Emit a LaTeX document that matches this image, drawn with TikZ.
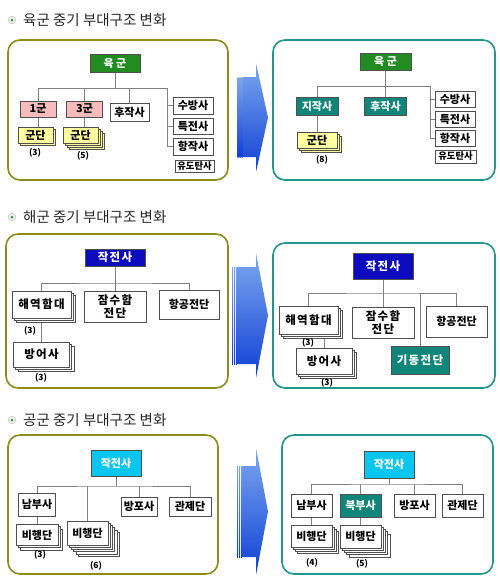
\documentclass[tikz,border=0pt]{standalone}
\usepackage{fontspec}
\setmainfont{Noto Sans CJK KR}
\usetikzlibrary{shadows,backgrounds}
\definecolor{oldframe}{HTML}{8C8C1A}
\definecolor{newframe}{HTML}{20968C}
\definecolor{boxline}{HTML}{505050}
\definecolor{wire}{HTML}{808080}
\definecolor{armygreen}{HTML}{228B22}
\definecolor{newteal}{HTML}{10857A}
\definecolor{navyblue}{HTML}{0C0CBE}
\definecolor{aircyan}{HTML}{08C6F0}
\definecolor{armypink}{HTML}{F8BCBC}
\definecolor{corps}{HTML}{FFFFA0}
\definecolor{arrowtop}{HTML}{7CA8EE}
\definecolor{arrowbot}{HTML}{1040D6}
\definecolor{leaf}{HTML}{3C9A3C}
% big blue arrow: stripe x, body top, body bottom, head top, head bottom
\newcommand{\bigarrow}[5]{%
  \foreach \s in {0,2,4}
    \shade[top color=arrowtop,bottom color=arrowbot] (#1+\s,#2) rectangle (#1+\s+1,#3);
  \shade[top color=arrowtop,bottom color=arrowbot] (#1+5.6,#2) -- (256,#2) -- (256,#4)
    -- (268,{(#4+#5)/2}) -- (256,#5) -- (256,#3) -- (#1+5.6,#3) -- cycle;
}
\tikzset{
  unit/.style={draw=boxline,fill=white,line width=0.7pt,inner sep=0pt,align=center,
    font=\bfseries\fontsize{11}{13}\selectfont},
  wide/.style={font=\bfseries\fontsize{11.5}{13}\selectfont\addfontfeatures{LetterSpace=12}},
  small/.style={font=\bfseries\fontsize{9.3}{10}\selectfont},
  hq/.style={unit,text=white,fill=#1},
  dims/.style 2 args={minimum width=#1pt,minimum height=#2pt},
  pile/.style={general shadow={fill=white,draw=boxline,line width=0.5pt,
    shadow xshift=#1*2.2pt,shadow yshift=-#1*2.2pt}},
  ypile/.style={general shadow={fill=corps,draw=boxline,line width=0.5pt,
    shadow xshift=#1*2.2pt,shadow yshift=-#1*2.2pt}},
  count/.style={font=\bfseries\fontsize{8.5}{9}\selectfont,inner sep=0pt},
  title/.style={anchor=west,inner sep=0pt,text=black!85,font=\fontsize{14.5}{15}\selectfont},
  oldbox/.style={draw=oldframe,line width=1.6pt,rounded corners=12pt},
  newbox/.style={draw=newframe,line width=1.6pt,rounded corners=12pt},
  link/.style={draw=wire,line width=0.8pt},
}
\begin{document}
\begin{tikzpicture}[x=1pt,y=-1pt]
\useasboundingbox (0,0) rectangle (500,584);
% titles
\foreach \y/\t in {20/육군 중기 부대구조 변화,217/해군 중기 부대구조 변화,420/공군 중기 부대구조 변화}{
  \draw[fill=gray!12,draw=gray!45,line width=0.6pt] (12,\y) circle (3.8);
  \fill[leaf] (12,\y) circle (1.5);
  \node[title] at (23,\y) {\t};
}
% frames
\draw[oldbox] (8,40) rectangle (228,180);
\draw[newbox] (273,40) rectangle (495,180);
\draw[oldbox] (6,234) rectangle (228,388);
\draw[newbox] (273,243) rectangle (495,388);
\draw[oldbox] (8,435) rectangle (218,574);
\draw[newbox] (282,435) rectangle (493,574);
% arrows
\bigarrow{237.7}{77}{157}{63}{172}
\bigarrow{232}{267}{364}{253}{378}
\bigarrow{237}{466}{557}{448}{575}

% army, before
\node[hq=armygreen,dims={50}{18}] (yg1) at (115,63) {육 군};
\node[unit,fill=armypink,dims={36}{16}] (g1) at (38,109) {1군};
\node[unit,fill=armypink,dims={36}{16}] (g3) at (84.5,109) {3군};
\node[unit,dims={39}{18}] (hj1) at (129.5,112) {후작사};
\node[unit,dims={40}{17}] (sb1) at (193,105.5) {수방사};
\node[unit,dims={40}{16}] (tj1) at (193,126) {특전사};
\node[unit,dims={40}{17}] (hs1) at (193,146.5) {항작사};
\node[unit,small,dims={39}{12},line width=0.5pt] (yd1) at (194.5,166) {유도탄사};
\node[unit,fill=corps,dims={35}{16},ypile=1] (gd1) at (35.5,135) {군단};
\node[unit,fill=corps,dims={35}{16},ypile=3,ypile=2,ypile=1] (gd3) at (80.5,135) {군단};
\node[count] (n1) at (35,153) {(3)};
\node[count] (n3) at (83,156) {(5)};
\coordinate (bus1) at (167,88);

% army, after
\node[hq=armygreen,dims={51}{17}] (yg2) at (385.5,61.5) {육 군};
\node[hq=newteal,dims={42}{18}] (jj2) at (317,106) {지작사};
\node[hq=newteal,dims={42}{18}] (hj2) at (385.5,106) {후작사};
\node[unit,dims={40}{16}] (sb2) at (455,99) {수방사};
\node[unit,dims={40}{16}] (tj2) at (455,119) {특전사};
\node[unit,dims={40}{16}] (hs2) at (455,138) {항작사};
\node[unit,small,dims={41}{13},line width=0.5pt] (yd2) at (455.5,156.5) {유도탄사};
\node[unit,fill=corps,dims={40}{16},ypile=2,ypile=1] (gd2) at (317,140) {군단};
\node[count] (n8) at (322,160) {(8)};
\coordinate (bus2) at (430,86);

% navy, before
\node[hq=navyblue,dims={60}{17},wide] (js3) at (115,257.5) {작전사};
\node[unit,dims={59}{27},wide,pile=2,pile=1] (hy3) at (41.5,304.5) {해역함대};
\node[unit,dims={62}{31},wide] (jsh3) at (115,306.5) {잠수함\\전단};
\node[unit,dims={60}{29}] (hg3) at (189,304.5) {항공전단};
\node[unit,dims={56}{25},wide,pile=2,pile=1] (bo3) at (41.5,354.5) {방어사};
\node[count] (n31) at (30,331) {(3)};
\node[count] (n32) at (41,378) {(3)};
\coordinate (bus3) at (115,283);

% navy, after
\node[hq=navyblue,dims={60}{26},wide] (js4) at (383,266) {작전사};
\node[unit,dims={59}{28},wide,pile=2,pile=1] (hy4) at (308.5,320) {해역함대};
\node[unit,dims={62}{31},wide] (jsh4) at (383,322.5) {잠수함\\전단};
\node[unit,dims={61}{31}] (hg4) at (456.5,321.5) {항공전단};
\node[hq=newteal,dims={58}{28},wide] (gd4) at (420,360) {기동전단};
\node[unit,dims={56}{26},wide,pile=2,pile=1] (bo4) at (324,361) {방어사};
\node[count] (n41) at (308,343) {(3)};
\node[count] (n42) at (327,383) {(3)};
\coordinate (bus4) at (383,293);

% air force, before
\node[hq=aircyan,dims={50}{26}] (js5) at (116,463) {작전사};
\node[unit,dims={37}{23}] (nb5) at (37,504.5) {남부사};
\node[unit,dims={36}{19}] (bp5) at (139,506.5) {방포사};
\node[unit,dims={42}{19}] (gj5) at (190,506.5) {관제단};
\node[unit,dims={42}{21},pile=2,pile=1] (bh5a) at (37,535) {비행단};
\node[unit,dims={41}{24},pile=5,pile=4,pile=3,pile=2,pile=1] (bh5b) at (87.5,533) {비행단};
\node[count] (n5a) at (40,555) {(3)};
\node[count] (n5b) at (96,566) {(6)};
\coordinate (bus5) at (116,486);

% air force, after
\node[hq=aircyan,dims={50}{27}] (js6) at (389,464.5) {작전사};
\node[unit,dims={41}{23}] (nb6) at (311.5,505.5) {남부사};
\node[hq=newteal,dims={41}{23}] (bk6) at (360.5,505.5) {북부사};
\node[unit,dims={41}{23}] (bp6) at (414.5,505.5) {방포사};
\node[unit,dims={41}{23}] (gj6) at (462.5,505.5) {관제단};
\node[unit,dims={41}{22},pile=3,pile=2,pile=1] (bh6a) at (311.5,536) {비행단};
\node[unit,dims={41}{23},pile=4,pile=3,pile=2,pile=1] (bh6b) at (360.5,536.5) {비행단};
\node[count] (n6a) at (312,563) {(4)};
\node[count] (n6b) at (362,564) {(5)};
\coordinate (bus6) at (389,484);

% connectors
\begin{scope}[on background layer]
\draw[link] (yg1.south) -- (yg1.south |- bus1);
\draw[link] (g1.north) |- (bus1);
\draw[link] (g3.north) -- (g3.north |- bus1);
\draw[link] (hj1.north) -- (hj1.north |- bus1);
\draw[link] (bus1) |- (sb1.west);
\draw[link] (bus1) |- (tj1.west);
\draw[link] (bus1) |- (hs1.west);
\draw[link] (g1.south) -- (g1.south |- gd1.north);
\draw[link] (g3.south) -- (g3.south |- gd3.north);

\draw[link] (yg2.south) -- (yg2.south |- bus2);
\draw[link] (jj2.north) |- (bus2);
\draw[link] (hj2.north) -- (hj2.north |- bus2);
\draw[link] (bus2) |- (sb2.west);
\draw[link] (bus2) |- (tj2.west);
\draw[link] (bus2) |- (hs2.west);
\draw[link] (jj2.south) -- (gd2.north);

\draw[link] (js3.south) -- (jsh3.north);
\draw[link] (hy3.north) |- (bus3) -| (hg3.north);
\draw[link] (hy3.south) -- (bo3.north);

\draw[link] (js4.south) -- (jsh4.north);
\draw[link] (hy4.north) |- (bus4) -| (hg4.north);
\draw[link] (gd4.north) -- (gd4.north |- bus4);
\draw[link] (bo4.north) -- (bo4.north |- hy4.south);

\draw[link] (js5.south) -- (js5.south |- bus5);
\draw[link] (nb5.north) |- (bus5) -| (gj5.north);
\draw[link] (bp5.north) -- (bp5.north |- bus5);
\draw[link] (bh5b.north) -- (bh5b.north |- bus5);
\draw[link] (nb5.south) -- (bh5a.north);

\draw[link] (js6.south) -- (js6.south |- bus6);
\draw[link] (nb6.north) |- (bus6) -| (gj6.north);
\draw[link] (bk6.north) -- (bk6.north |- bus6);
\draw[link] (bp6.north) -- (bp6.north |- bus6);
\draw[link] (nb6.south) -- (bh6a.north);
\draw[link] (bk6.south) -- (bh6b.north);
\end{scope}
\end{tikzpicture}
\end{document}
